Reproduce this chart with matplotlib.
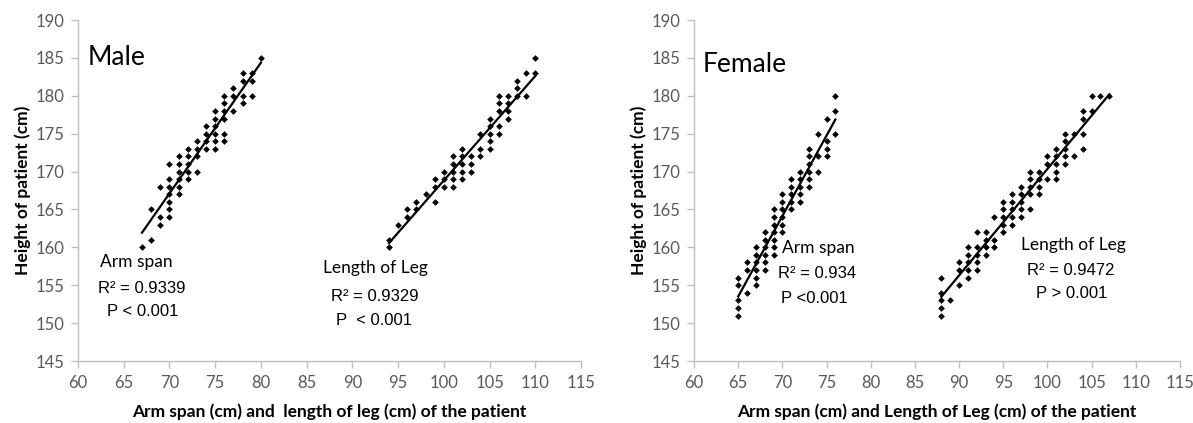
import numpy as np
import matplotlib.pyplot as plt

# male: arm span vs height
male_arm_x = [67, 68, 68, 69, 69, 69,
              70, 70, 70, 70, 70, 70, 70,
              71, 71, 71, 71, 71, 71,
              72, 72, 72, 72, 72,
              73, 73, 73, 73,
              74, 74, 74, 74,
              75, 75, 75, 75, 75, 75,
              76, 76, 76, 76, 76, 76,
              77, 77, 77,
              78, 78, 78, 78,
              79, 79, 79,
              80]
male_arm_y = [160, 161, 165, 168, 164, 163,
              171, 169, 168, 167, 166, 165, 164,
              172, 171, 170, 169, 168, 167,
              173, 172, 171, 170, 169,
              174, 173, 172, 170,
              176, 175, 174, 173,
              178, 177, 176, 175, 174, 173,
              180, 179, 178, 177, 175, 174,
              181, 180, 178,
              183, 182, 180, 179,
              183, 182, 180,
              185]

# male: leg length vs height
male_leg_x = [94, 94, 95, 96, 96, 97, 97, 98,
              99, 99, 99, 100, 100, 100,
              101, 101, 101, 101, 101,
              102, 102, 102, 102, 102,
              103, 103, 103, 104, 104, 104,
              105, 105, 105, 105, 105,
              106, 106, 106, 106, 106,
              107, 107, 107, 107,
              108, 108, 108, 109, 109, 110, 110]
male_leg_y = [160, 161, 163, 165, 164, 166, 165, 167,
              169, 168, 166, 170, 169, 168,
              172, 171, 170, 169, 168,
              173, 172, 171, 170, 169,
              172, 171, 170, 175, 173, 172,
              177, 176, 175, 174, 173,
              180, 179, 178, 176, 175,
              180, 179, 178, 177,
              182, 181, 180, 183, 180, 185, 183]

# female: arm span vs height
female_arm_x = [65, 65, 65, 65, 65, 66, 66, 66,
                67, 67, 67, 67, 67, 67,
                68, 68, 68, 68, 68, 68,
                69, 69, 69, 69, 69, 69, 69,
                70, 70, 70, 70, 70, 70,
                71, 71, 71, 71, 71,
                72, 72, 72, 72, 72,
                73, 73, 73, 73, 73, 73,
                74, 74, 74, 75, 75, 75, 75,
                76, 76, 76]
female_arm_y = [156, 155, 153, 152, 151, 158, 157, 154,
                160, 159, 158, 157, 156, 155,
                162, 161, 160, 159, 158, 157,
                165, 164, 163, 162, 161, 160, 159,
                167, 166, 165, 164, 163, 162,
                169, 168, 167, 166, 165,
                170, 169, 168, 167, 166,
                173, 172, 171, 170, 169, 168,
                175, 172, 170, 177, 174, 173, 172,
                180, 178, 175]

# female: leg length vs height
female_leg_x = [88, 88, 88, 88, 88, 89, 90, 90, 90,
                91, 91, 91, 91, 91, 92, 92, 92, 92, 92,
                93, 93, 93, 93, 94, 94, 94,
                95, 95, 95, 95, 95, 96, 96, 96, 96, 96,
                97, 97, 97, 97, 97, 98, 98, 98, 98, 98,
                99, 99, 99, 99, 100, 100, 100,
                101, 101, 101, 101, 101,
                102, 102, 102, 102, 102,
                103, 103, 104, 104, 104, 104,
                105, 105, 106, 107]
female_leg_y = [156, 154, 153, 152, 151, 153, 158, 157, 155,
                160, 159, 158, 157, 156, 162, 160, 159, 158, 157,
                162, 161, 160, 159, 164, 161, 160,
                166, 165, 164, 163, 162, 167, 166, 165, 164, 163,
                168, 167, 166, 165, 164, 170, 169, 168, 167, 165,
                170, 169, 168, 167, 172, 171, 169,
                173, 172, 171, 170, 169,
                175, 174, 173, 172, 171,
                175, 172, 178, 177, 175, 173,
                180, 178, 180, 180]

xticks = np.arange(60, 116, 5)
yticks = np.arange(145, 191, 5)

calibri = 'Lato'
arial = 'Liberation Sans'
gray = '#595959'
spine_gray = '#BFBFBF'

fig = plt.figure(figsize=(11.93, 4.23), dpi=100, facecolor='w')
W, H = 1193, 423
ax1 = fig.add_axes([78 / W, 1 - 361 / H, (581 - 78) / W, (361 - 20) / H])
ax2 = fig.add_axes([694 / W, 1 - 361 / H, (1180 - 694) / W, (361 - 20) / H])


def series(ax, x, y):
    ax.plot(x, y, 'D', color='k', markersize=3.4, markeredgewidth=0)
    k, b = np.polyfit(x, y, 1)
    xs = np.array([min(x), max(x)])
    ax.plot(xs, k * xs + b, color='k', lw=1.6)


for ax in (ax1, ax2):
    ax.set_xlim(60, 115)
    ax.set_ylim(145, 190)
    ax.set_xticks(xticks)
    ax.set_yticks(yticks)
    for s in ('top', 'right'):
        ax.spines[s].set_visible(False)
    for s in ('left', 'bottom'):
        ax.spines[s].set_color(spine_gray)
        ax.spines[s].set_linewidth(1.0)
    ax.tick_params(direction='out', length=5, width=1.0, color=spine_gray,
                   labelcolor=gray, labelsize=12, pad=5)
    for lab in ax.get_xticklabels() + ax.get_yticklabels():
        lab.set_fontfamily(calibri)
    ax.set_ylabel('Height of patient (cm)', fontfamily=calibri,
                  fontweight='bold', fontsize=12.5, labelpad=3)

series(ax1, male_arm_x, male_arm_y)
series(ax1, male_leg_x, male_leg_y)
series(ax2, female_arm_x, female_arm_y)
series(ax2, female_leg_x, female_leg_y)

ax1.set_xlabel('Arm span (cm) and  length of leg (cm) of the patient',
               fontfamily=calibri, fontweight='bold', fontsize=12.5, labelpad=9)
ax2.set_xlabel('Arm span (cm) and Length of Leg (cm) of the patient',
               fontfamily=calibri, fontweight='bold', fontsize=12.5, labelpad=9)

ax1.text(61.1, 185, 'Male', fontfamily=calibri, fontsize=19, va='center')
ax1.text(62.4, 158.1, 'Arm span', fontfamily=calibri, fontsize=12.5, va='center')
ax1.text(62.2, 154.6, 'R² = 0.9339', fontfamily=arial, fontsize=12, va='center')
ax1.text(63.2, 151.5, 'P < 0.001', fontfamily=arial, fontsize=12, va='center')
ax1.text(86.8, 157.3, 'Length of Leg', fontfamily=calibri, fontsize=12.5, va='center')
ax1.text(87.7, 153.5, 'R² = 0.9329', fontfamily=arial, fontsize=12, va='center')
ax1.text(88.2, 150.3, 'P  < 0.001', fontfamily=arial, fontsize=12, va='center')

ax2.text(61.0, 184.1, 'Female', fontfamily=calibri, fontsize=19, va='center')
ax2.text(70.0, 159.9, 'Arm span', fontfamily=calibri, fontsize=12.5, va='center')
ax2.text(69.5, 156.6, 'R² = 0.934', fontfamily=arial, fontsize=12, va='center')
ax2.text(69.9, 153.3, 'P <0.001', fontfamily=arial, fontsize=12, va='center')
ax2.text(97.0, 160.3, 'Length of Leg', fontfamily=calibri, fontsize=12.5, va='center')
ax2.text(97.7, 157.0, 'R² = 0.9472', fontfamily=arial, fontsize=12, va='center')
ax2.text(98.7, 153.9, 'P > 0.001', fontfamily=arial, fontsize=12, va='center')

plt.savefig('out.png', dpi=100, facecolor='w')
plt.close()
